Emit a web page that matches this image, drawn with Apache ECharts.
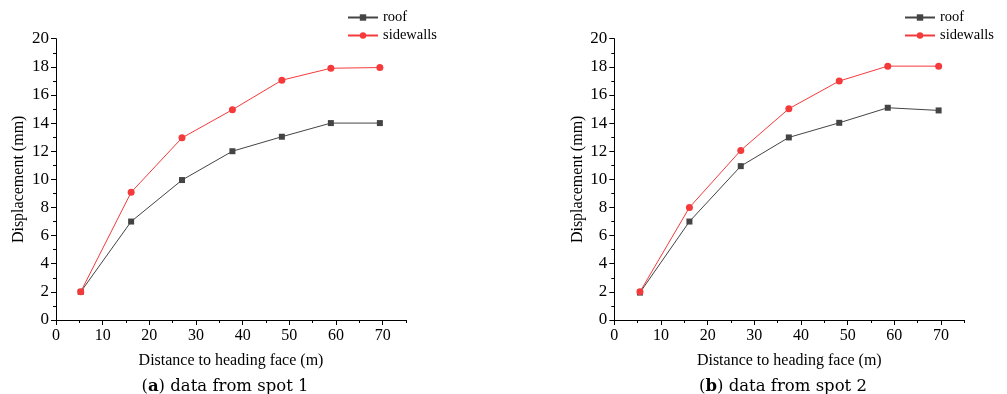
<!DOCTYPE html>
<html>
<head>
<meta charset="utf-8">
<script src="https://cdn.jsdelivr.net/npm/echarts@6/dist/echarts.min.js"></script>
<style>html,body{margin:0;padding:0;background:#fff}#c{width:1007px;height:394px}</style>
</head>
<body>
<div id="c"></div>
<script>
// Data
const distance1 = [5.3, 16.1, 27.0, 37.8, 48.4, 58.9, 69.4];
const roof1 = [2.0, 7.0, 9.95, 12.0, 13.03, 14.0, 14.0];
const sidewalls1 = [2.0, 9.08, 12.95, 14.95, 17.05, 17.9, 17.95];
const distance2 = [5.5, 16.1, 27.1, 37.4, 48.2, 58.6, 69.5];
const roof2 = [1.95, 7.0, 10.94, 12.98, 14.02, 15.09, 14.9];
const sidewalls2 = [2.0, 8.0, 12.06, 15.02, 16.99, 18.05, 18.05];
const xMajorTicks = [0, 10, 20, 30, 40, 50, 60, 70];
const captions = ['a', 'b'];
const captionTexts = [' data from spot 1', ' data from spot 2'];

const FONT = 'Liberation Serif';
const CAP_FONT = 'DejaVu Serif';
const ROOF_C = '#444444';
const SIDE_C = '#f53a3c';

const zip = (xs, ys) => xs.map((x, i) => [x, ys[i]]);

const grids = [
  { left: 56, top: 38.7, width: 350, height: 281.3 },
  { left: 614.3, top: 38.7, width: 350, height: 281.3 }
];

function xAxis(i) {
  return {
    type: 'value', gridIndex: i, position: 'bottom', min: 0, max: 75, interval: 5,
    name: 'Distance to heading face (m)', nameLocation: 'middle', nameGap: 33,
    nameTextStyle: { fontFamily: FONT, fontSize: 16, color: '#000' },
    axisLine: { lineStyle: { color: '#000', width: 1 } },
    axisTick: { inside: false, length: 3, lineStyle: { color: '#000' } },
    axisLabel: { fontFamily: FONT, fontSize: 16, color: '#000', margin: 8,
      formatter: v => (v % 10 === 0 && v <= 70) ? String(v) : '' },
    splitLine: { show: false }
  };
}
function xAxisMajor(i) {
  return {
    type: 'value', gridIndex: i, position: 'bottom', offset: 0, min: 0, max: 75,
    axisLine: { show: false },
    axisTick: { show: true, inside: false, length: 5, customValues: xMajorTicks, lineStyle: { color: '#000' } },
    axisLabel: { show: false },
    splitLine: { show: false }
  };
}
function yAxis(i) {
  return {
    type: 'value', gridIndex: i, min: 0, max: 20, interval: 2,
    name: 'Displacement (mm)', nameLocation: 'middle', nameGap: 29,
    nameTextStyle: { fontFamily: FONT, fontSize: 16, color: '#000' },
    axisLine: { show: true, lineStyle: { color: '#000', width: 1 } },
    axisTick: { show: true, inside: false, length: 5, lineStyle: { color: '#000' } },
    minorTick: { show: true, splitNumber: 2, length: 3, lineStyle: { color: '#000' } },
    axisLabel: { fontFamily: FONT, fontSize: 17, color: '#000', margin: 7 },
    splitLine: { show: false }
  };
}
function lineSeries(name, xs, ys, i, color, symbol, size) {
  return {
    type: 'line', name, xAxisIndex: i, yAxisIndex: i,
    data: zip(xs, ys), symbol, symbolSize: size,
    lineStyle: { color, width: 1 }, itemStyle: { color },
    animation: false
  };
}
function legend(left) {
  return {
    orient: 'vertical', left, top: 10, padding: 0, itemWidth: 30, itemHeight: 8, itemGap: 3,
    textStyle: { fontFamily: FONT, fontSize: 14.5, color: '#000' },
    data: ['roof', 'sidewalls'], selectedMode: false
  };
}

const chart = echarts.init(document.getElementById('c'), null, { renderer: 'canvas' });
chart.setOption({
  backgroundColor: '#fff',
  animation: false,
  grid: grids,
  xAxis: [xAxis(0), xAxis(1), xAxisMajor(0), xAxisMajor(1)],
  yAxis: [yAxis(0), yAxis(1)],
  legend: [legend(347), legend(904)],
  series: [
    lineSeries('roof', distance1, roof1, 0, ROOF_C, 'rect', 6),
    lineSeries('sidewalls', distance1, sidewalls1, 0, SIDE_C, 'circle', 7),
    lineSeries('roof', distance2, roof2, 1, ROOF_C, 'rect', 6),
    lineSeries('sidewalls', distance2, sidewalls2, 1, SIDE_C, 'circle', 7)
  ],
  title: [0, 1].map(i => ({
    text: '{p|(}{b|' + captions[i] + '}{p|)' + captionTexts[i] + '}',
    left: [225, 783][i], top: 378, textAlign: 'center', padding: 0,
    textStyle: { rich: {
      p: { fontFamily: CAP_FONT, fontSize: 16.5, fontWeight: 'normal', color: '#000' },
      b: { fontFamily: CAP_FONT, fontSize: 16.5, fontWeight: 'bold', color: '#000' }
    } }
  }))
});
</script>
</body>
</html>
